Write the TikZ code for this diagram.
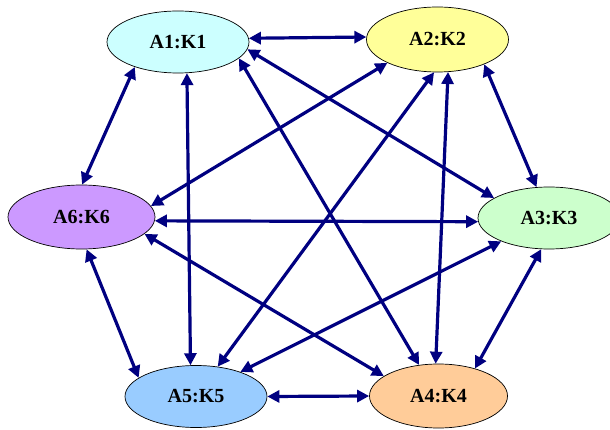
\documentclass[tikz,border=0pt]{standalone}
\usepackage{fontspec}
\setmainfont{Liberation Serif}
\usetikzlibrary{shapes.geometric,arrows.meta}

\definecolor{linkblue}{RGB}{0,0,128}
\definecolor{fillA}{RGB}{204,255,255}
\definecolor{fillB}{RGB}{255,255,153}
\definecolor{fillC}{RGB}{204,255,204}
\definecolor{fillD}{RGB}{255,204,153}
\definecolor{fillE}{RGB}{153,204,255}
\definecolor{fillF}{RGB}{204,153,255}

\tikzset{
  agent/.style={ellipse, draw=black, line width=0.7pt, inner sep=0pt,
    minimum width=142pt, minimum height=62pt,
    font=\fontsize{20}{24}\selectfont\bfseries},
  link/.style={draw=linkblue, line width=3.2pt,
    {Triangle[length=12pt,width=12pt]}-{Triangle[length=12pt,width=12pt]}}
}

\begin{document}
\begin{tikzpicture}[x=1pt,y=-1pt]
\useasboundingbox (0,0) rectangle (610,430);

% the six agents
\node[agent, fill=fillA] (A1) at (178,42)    {A1:K1};
\node[agent, fill=fillB, minimum height=65pt] (A2) at (437.5,39.5) {A2:K2};
\node[agent, fill=fillC] (A3) at (549,218)   {A3:K3};
\node[agent, fill=fillD, minimum width=138pt, minimum height=64pt] (A4) at (438.5,396) {A4:K4};
\node[agent, fill=fillE] (A5) at (196,396.5) {A5:K5};
\node[agent, fill=fillF, minimum width=147pt, minimum height=64pt] (A6) at (81.5,217) {A6:K6};

% every pair of agents is linked both ways
\draw[link] (A1.3)      -- (A2.178);
\draw[link] (A1.-150.5) -- (A6.89);
\draw[link] (A1.-74)    -- (A5.100);
\draw[link] (A1.-15.7)  -- (A4.122);
\draw[link] (A1.-6.6)   -- (A3.160);
\draw[link] (A2.-155)   -- (A6.9.3);
\draw[link] (A2.-96)    -- (A5.54);
\draw[link] (A2.-72)    -- (A4.95);
\draw[link] (A2.-28)    -- (A3.112);
\draw[link] (A3.-177)   -- (A6.-3.5);
\draw[link] (A3.-154)   -- (A5.29);
\draw[link] (A3.-104)   -- (A4.37);
\draw[link] (A4.180)    -- (A5.0);
\draw[link] (A4.160)    -- (A6.-15);
\draw[link] (A5.162)    -- (A6.-81);
\end{tikzpicture}
\end{document}
